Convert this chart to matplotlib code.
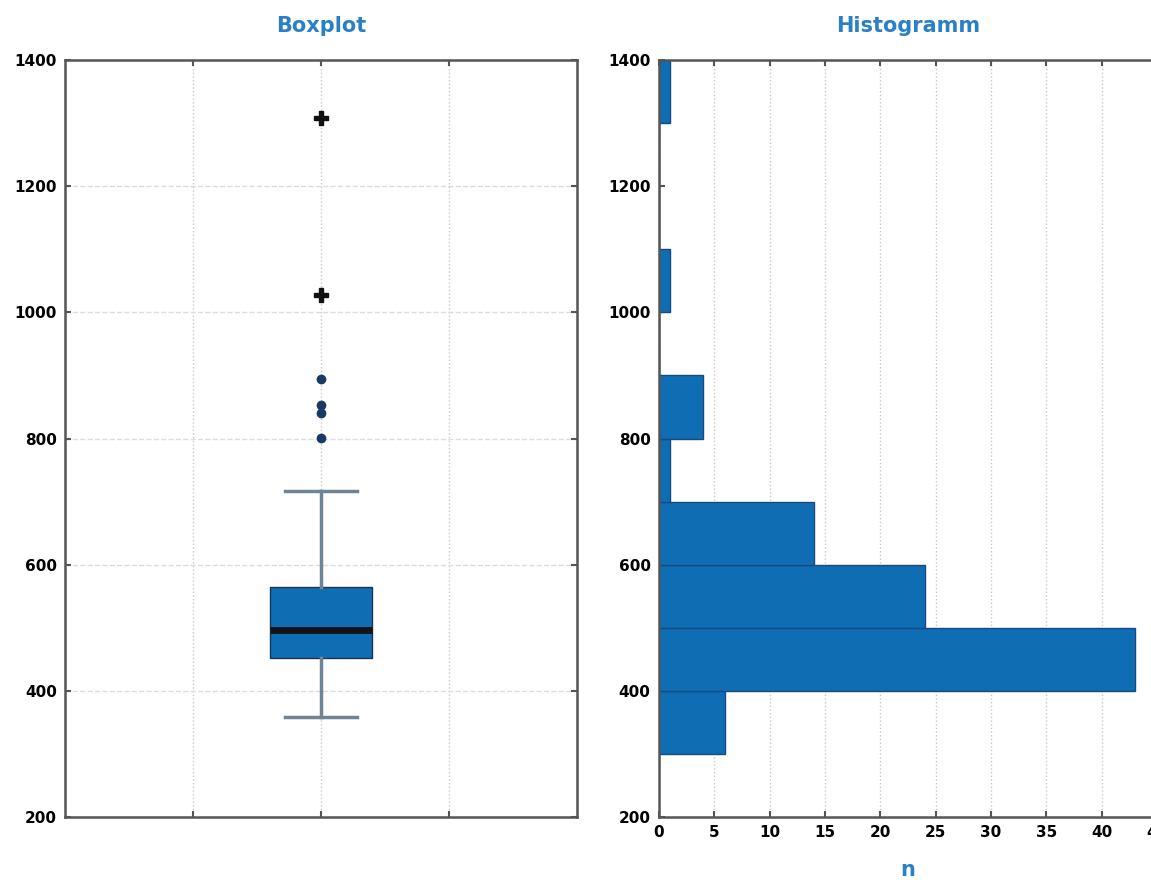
import matplotlib
matplotlib.use("Agg")
import matplotlib.pyplot as plt

# boxplot summary
q1 = 452
median = 496
q3 = 565
whisker_low = 358
whisker_high = 717
mild_outliers = [801, 840, 853, 894]
extreme_outliers = [1027, 1308]

# histogram counts per 100-wide bin
bin_lefts = [300, 400, 500, 600, 700, 800, 900, 1000, 1100, 1200, 1300]
counts = [6, 43, 24, 14, 1, 4, 0, 1, 0, 0, 1]

yticks = [200, 400, 600, 800, 1000, 1200, 1400]
hist_xticks = [0, 5, 10, 15, 20, 25, 30, 35, 40, 45]

blue = "#0f6db3"
title_blue = "#2a80c6"
spine_col = "#555555"

plt.rcParams["font.family"] = ["DejaVu Sans"]

fig = plt.figure(figsize=(11.51, 8.8), dpi=100)
ax1 = fig.add_axes([0.0565, 0.0716, 0.4448, 0.8602])
ax2 = fig.add_axes([0.5725, 0.0716, 0.4327, 0.8602])

# --- boxplot ---
stats = [{
    "med": median, "q1": q1, "q3": q3,
    "whislo": whisker_low, "whishi": whisker_high,
    "fliers": mild_outliers,
}]
ax1.bxp(stats, positions=[1], widths=0.2, capwidths=0.14, patch_artist=True,
        boxprops=dict(facecolor=blue, edgecolor="#1a3550", linewidth=1),
        medianprops=dict(color="#111418", linewidth=5),
        whiskerprops=dict(color="#6f8596", linewidth=2.5),
        capprops=dict(color="#6f8596", linewidth=2.5),
        flierprops=dict(marker="o", markersize=6, markerfacecolor="#173a66",
                        markeredgecolor="#173a66"))
ax1.plot([1] * len(extreme_outliers), extreme_outliers, linestyle="none",
         marker="P", markersize=10, color="#111111")

ax1.set_xlim(0.5, 1.5)
ax1.set_xticks([0.75, 1.0, 1.25])
ax1.set_xticklabels([])
ax1.set_ylim(200, 1400)
ax1.set_yticks(yticks)
ax1.grid(True, axis="x", linestyle=":", color="#c8c8c8", linewidth=1)
ax1.grid(True, axis="y", linestyle="--", color="#dddddd", linewidth=1)
ax1.set_title("Boxplot", color=title_blue, fontsize=15, fontweight="bold", pad=20)

# --- histogram ---
ax2.barh(bin_lefts, counts, height=100, align="edge", color=blue,
         edgecolor="#164a80", linewidth=1)
ax2.set_xlim(0, 45)
ax2.set_xticks(hist_xticks)
ax2.set_ylim(200, 1400)
ax2.set_yticks(yticks)
ax2.grid(True, axis="x", linestyle=":", color="#c8c8c8", linewidth=1)
ax2.set_axisbelow(True)
ax2.set_title("Histogramm", color=title_blue, fontsize=15, fontweight="bold", pad=20)
ax2.set_xlabel("n", color=title_blue, fontsize=15, fontweight="bold", labelpad=14)

for ax in (ax1, ax2):
    for s in ax.spines.values():
        s.set_color(spine_col)
        s.set_linewidth(1.8)
    ax.tick_params(direction="in", length=4, width=1.5, color=spine_col,
                   labelsize=11, top=True, right=True, pad=6)
    for lab in ax.get_yticklabels() + ax.get_xticklabels():
        lab.set_fontweight("bold")

fig.savefig("out.png", dpi=100)
